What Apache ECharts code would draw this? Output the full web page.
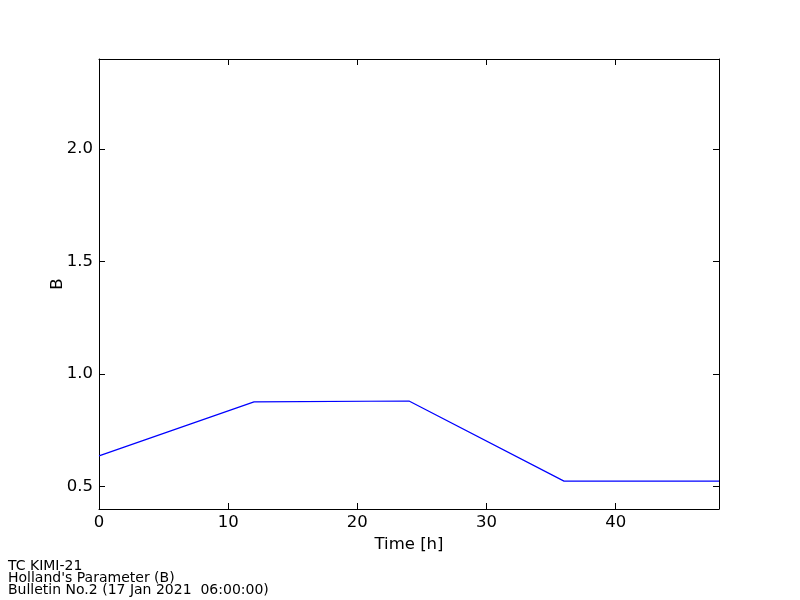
<!DOCTYPE html>
<html>
<head>
<meta charset="utf-8">
<script src="https://cdn.jsdelivr.net/npm/echarts@6/dist/echarts.min.js"></script>
<style>html,body{margin:0;padding:0;background:#fff}#c{width:800px;height:600px}</style>
</head>
<body>
<div id="c"></div>
<script>
var timeH = [0, 12, 24, 36, 48];
var bValues = [0.636, 0.876, 0.880, 0.524, 0.524];
var xTicks = [0, 10, 20, 30, 40];
var yTicks = [0.5, 1.0, 1.5, 2.0];
var footerLines = ["TC KIMI-21", "Holland's Parameter (B)", "Bulletin No.2 (17 Jan 2021  06:00:00)"];

var font = 'DejaVu Sans';
var chart = echarts.init(document.getElementById('c'), null, {renderer: 'canvas'});
function tickStyle(vals) {
  return {show: true, inside: true, length: 6, customValues: vals, lineStyle: {color: '#000', width: 1}};
}
var lineStyle = {show: true, onZero: false, lineStyle: {color: '#000', width: 1}};
chart.setOption({
  animation: false,
  backgroundColor: '#fff',
  title: {
    text: footerLines.join('\n'),
    left: 8, top: 560, padding: 0,
    textStyle: {fontFamily: font, fontSize: 14, fontWeight: 'normal', color: '#000', lineHeight: 12}
  },
  grid: {left: 99, top: 59, right: 81, bottom: 91, containLabel: false},
  xAxis: [{
    type: 'value', min: 0, max: 48, position: 'bottom',
    name: 'Time [h]', nameLocation: 'middle', nameGap: 26,
    nameTextStyle: {fontFamily: font, fontSize: 16.5, color: '#000'},
    axisLine: lineStyle,
    axisTick: tickStyle(xTicks),
    axisLabel: {customValues: xTicks, fontFamily: font, fontSize: 16.5, color: '#000', margin: 5},
    splitLine: {show: false}
  }, {
    type: 'value', min: 0, max: 48, position: 'top',
    axisLine: lineStyle,
    axisTick: tickStyle(xTicks),
    axisLabel: {show: false},
    splitLine: {show: false}
  }],
  yAxis: [{
    type: 'value', min: 0.4, max: 2.4, position: 'left',
    name: 'B', nameLocation: 'middle', nameGap: 33, nameMoveOverlap: false,
    nameTextStyle: {fontFamily: font, fontSize: 16.5, color: '#000'},
    axisLine: lineStyle,
    axisTick: tickStyle(yTicks),
    axisLabel: {customValues: yTicks, fontFamily: font, fontSize: 16.5, color: '#000', margin: 6,
      formatter: function (v) { return v.toFixed(1); }},
    splitLine: {show: false}
  }, {
    type: 'value', min: 0.4, max: 2.4, position: 'right',
    axisLine: lineStyle,
    axisTick: tickStyle(yTicks),
    axisLabel: {show: false},
    splitLine: {show: false}
  }],
  series: [{
    type: 'line',
    data: timeH.map(function (t, i) { return [t, bValues[i]]; }),
    showSymbol: false,
    lineStyle: {color: '#0000ff', width: 1.2},
    itemStyle: {color: '#0000ff'}
  }]
});
</script>
</body>
</html>
